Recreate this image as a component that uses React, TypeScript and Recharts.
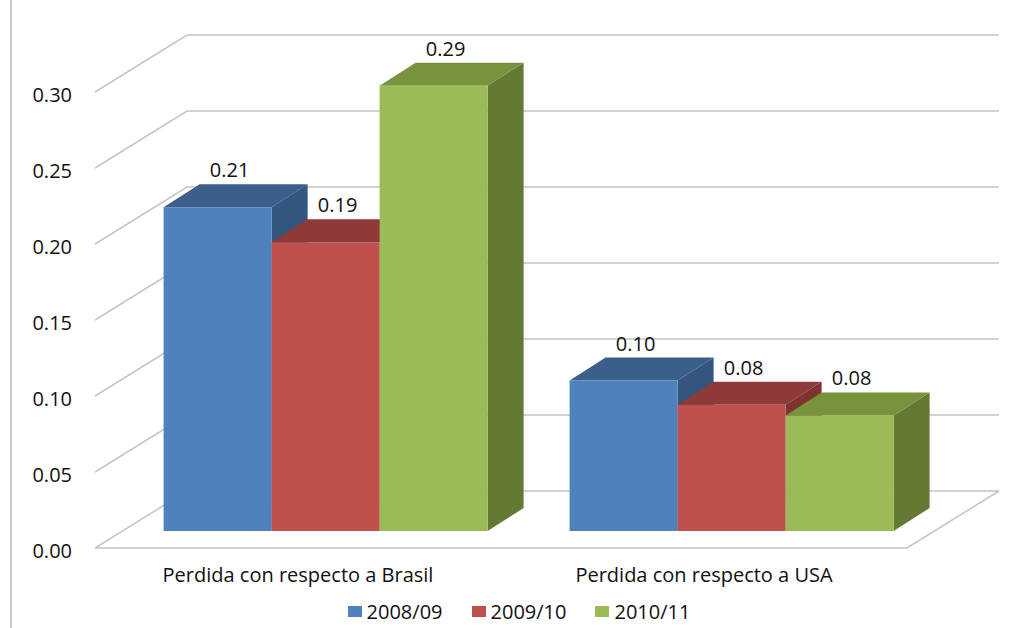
import { Bar, BarChart, CartesianGrid, LabelList, Legend, XAxis, YAxis } from "recharts";

const CATEGORIES = ["Perdida con respecto a Brasil", "Perdida con respecto a USA"];
const SERIES_NAMES = ["2008/09", "2009/10", "2010/11"];
const VALUES_0809 = [0.213, 0.099];
const VALUES_0910 = [0.19, 0.083];
const VALUES_1011 = [0.293, 0.076];
const Y_TICKS = [0, 0.05, 0.1, 0.15, 0.2, 0.25, 0.3];

const KEYS = ["s0809", "s0910", "s1011"];
const FRONT = ["#4F81BD", "#C0504D", "#9BBB59"];
const TOP = ["#3B5E8B", "#8E3A38", "#77933C"];
const SIDE = ["#34557E", "#7E3331", "#637A34"];

const data = CATEGORIES.map((name, i) => ({
  name,
  s0809: VALUES_0809[i],
  s0910: VALUES_0910[i],
  s1011: VALUES_1011[i],
}));

// oblique projection: back wall offset, bar offset into depth, bar depth
const WALL_DX = 92;
const WALL_DY = 57;
const SHIFT_X = 28;
const SHIFT_Y = 17;
const BAR_DX = 36;
const BAR_DY = 23;

const FONT = "'Open Sans', sans-serif";
const TEXT = "#111";
const GRID = "#c4c4c4";

function GridLine(props: any) {
  const { x1, y1, x2, y, height } = props;
  const isFloor = Math.abs(y1 - (y + height)) < 1;
  let d = `M${x1},${y1} L${x1 + WALL_DX},${y1 - WALL_DY} L${x2 + WALL_DX},${y1 - WALL_DY}`;
  if (isFloor) d += ` M${x1},${y1} L${x2},${y1} L${x2 + WALL_DX},${y1 - WALL_DY}`;
  return <path key={props.key} d={d} stroke={GRID} strokeWidth={1.5} fill="none" />;
}

function makeBox(idx: number) {
  return (props: any) => {
    const { x, y, width, height } = props;
    if (width == null || height == null) return <g />;
    const X = x + SHIFT_X;
    const Y = y - SHIFT_Y;
    const w = width;
    const h = height;
    return (
      <g>
        <polygon
          points={`${X + w},${Y} ${X + w + BAR_DX},${Y - BAR_DY} ${X + w + BAR_DX},${Y + h - BAR_DY} ${X + w},${Y + h}`}
          fill={SIDE[idx]}
        />
        <polygon
          points={`${X},${Y} ${X + w},${Y} ${X + w + BAR_DX},${Y - BAR_DY} ${X + BAR_DX},${Y - BAR_DY}`}
          fill={TOP[idx]}
        />
        <rect x={X} y={Y} width={w} height={h} fill={FRONT[idx]} />
      </g>
    );
  };
}

function BarLabel(props: any) {
  const vb = props.viewBox ?? props;
  const x = props.x ?? vb.x;
  const y = props.y ?? vb.y;
  const width = props.width ?? vb.width;
  if (x == null || y == null) return null;
  return (
    <text
      x={x + width / 2 + SHIFT_X + 12}
      y={y - SHIFT_Y - BAR_DY - 7}
      textAnchor="middle"
      fontFamily={FONT}
      fontSize={20}
      fill={TEXT}
    >
      {Number(props.value).toFixed(2)}
    </text>
  );
}

function LegendContent({ payload }: any) {
  return (
    <div
      style={{
        display: "flex",
        justifyContent: "center",
        gap: 29,
        fontFamily: FONT,
        fontSize: 20,
        lineHeight: "27px",
        color: TEXT,
      }}
    >
      {(payload ?? []).map((p: any) => (
        <span key={p.value} style={{ display: "flex", alignItems: "center" }}>
          <span style={{ width: 14, height: 11, background: p.color, marginRight: 5, display: "inline-block" }} />
          {p.value}
        </span>
      ))}
    </div>
  );
}

export default function App() {
  return (
    <div style={{ position: "absolute", left: 0, top: 0, width: 1014, height: 628, background: "#fff" }}>
      <div style={{ position: "absolute", left: 10, top: 0, width: 2, height: 628, background: "#c8c8c8" }} />
      <BarChart
        width={1014}
        height={628}
        data={data}
        margin={{ top: 92, right: 107, bottom: 30, left: 15 }}
        barCategoryGap="10%"
        barGap={0}
      >
        <CartesianGrid vertical={false} horizontal={GridLine} />
        <XAxis
          dataKey="name"
          height={50}
          axisLine={false}
          tickLine={false}
          tickSize={0}
          tickMargin={20}
          tick={{ fontFamily: FONT, fontSize: 20, fill: TEXT }}
        />
        <YAxis
          width={80}
          domain={[0, 0.3]}
          ticks={Y_TICKS}
          axisLine={false}
          tickLine={false}
          tickSize={0}
          tickMargin={23}
          tickFormatter={(v: number) => v.toFixed(2)}
          tick={{ fontFamily: FONT, fontSize: 20, fill: TEXT, dy: 3 }}
        />
        <Legend
          verticalAlign="middle"
          layout="horizontal"
          content={<LegendContent />}
          wrapperStyle={{ left: 12, top: 598, width: 1014 }}
        />
        {KEYS.map((k, i) => (
          <Bar key={k} dataKey={k} name={SERIES_NAMES[i]} fill={FRONT[i]} shape={makeBox(i)} isAnimationActive={false}>
            <LabelList dataKey={k} content={BarLabel} />
          </Bar>
        ))}
      </BarChart>
    </div>
  );
}
